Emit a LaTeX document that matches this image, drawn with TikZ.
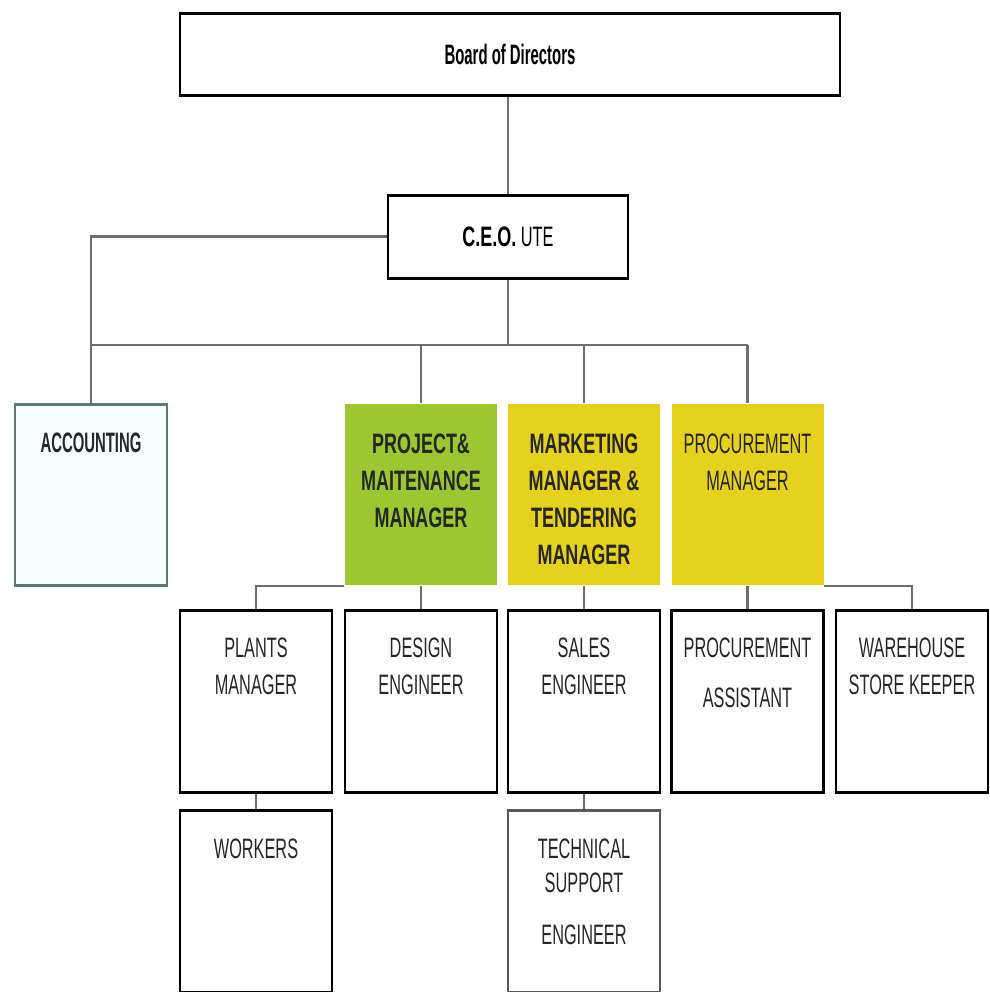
\documentclass[tikz,border=0pt]{standalone}
\usepackage{fontspec}
\setmainfont{Liberation Sans}[FakeStretch=0.58]
\newfontfamily\headfont{Liberation Sans Bold}[FakeStretch=0.64]
\newfontfamily\boardfont{Liberation Sans Bold}[FakeStretch=0.53]
\usetikzlibrary{positioning, calc}
\definecolor{linegray}{HTML}{6E6E6E}
\definecolor{projgreen}{HTML}{9BC832}
\definecolor{mgryellow}{HTML}{E6D21E}
\definecolor{accline}{HTML}{5A7878}
\definecolor{accfill}{HTML}{F7FCFD}
\tikzset{
  link/.style={draw=linegray, line width=0.6pt},
  unit/.style={draw=black, line width=0.85pt, minimum width=1.52cm, minimum height=1.82cm, inner sep=0pt},
  head/.style={fill=#1, minimum width=1.52cm, minimum height=1.81cm, inner sep=0pt},
  caption/.style={inner sep=0pt, align=center, text=black!85, font=\fontsize{8}{10.5}\selectfont},
}

\begin{document}
\begin{tikzpicture}
    \useasboundingbox (0,0) rectangle (9.90,-9.92);

    % Top of the chart
    \node[draw, line width=0.85pt, minimum width=6.60cm, minimum height=0.82cm, font=\boardfont\fontsize{8}{10}\selectfont]
        (board) at (5.10,-0.54) {Board of Directors};
    \node[draw, line width=0.85pt, minimum width=2.40cm, minimum height=0.83cm, font=\fontsize{8}{10}\selectfont]
        (ceo) at (5.08,-2.365) {{\headfont C.E.O.} UTE};

    % Managers
    \node[head=accfill, draw=accline, line width=0.85pt] (acc) at (0.91,-4.945) {};
    \node[head=projgreen] (proj) at (4.21,-4.945) {};
    \node[head=mgryellow] (mark) at (5.84,-4.945) {};
    \node[head=mgryellow] (proc) at (7.475,-4.945) {};

    \node[caption, font=\boardfont\fontsize{8}{10.5}\selectfont, below=3mm of acc.north] (acctxt) {ACCOUNTING};
    \node[caption, font=\headfont\fontsize{8}{10.5}\selectfont, below=3mm of proj.north] (projtxt) {PROJECT\&\\MAITENANCE\\MANAGER};
    \node[caption, font=\headfont\fontsize{8}{10.5}\selectfont, below=3mm of mark.north] (marktxt) {MARKETING\\MANAGER \&\\TENDERING\\MANAGER};
    \node[caption, below=3mm of proc.north] (proctxt) {PROCUREMENT\\MANAGER};

    % Staff
    \node[unit] (plants) at (2.56,-7.01) {};
    \node[unit] (design) at (4.21,-7.01) {};
    \node[unit] (sales) at (5.84,-7.01) {};
    \node[unit] (passist) at (7.475,-7.01) {};
    \node[unit] (ware) at (9.12,-7.01) {};
    \node[unit] (workers) at (2.56,-9.01) {};
    \node[unit, draw=linegray!80!black] (tech) at (5.84,-9.01) {};

    \node[caption, below=2.9mm of plants.north] (plantstxt) {PLANTS\\MANAGER};
    \node[caption, below=2.9mm of design.north] (designtxt) {DESIGN\\ENGINEER};
    \node[caption, below=2.9mm of sales.north] (salestxt) {SALES\\ENGINEER};
    \node[caption, below=2.9mm of passist.north] (passisttxt) {PROCUREMENT\\[3.7pt]ASSISTANT};
    \node[caption, below=2.9mm of ware.north] (waretxt) {WAREHOUSE\\STORE KEEPER};
    \node[caption, below=3mm of workers.north] (workerstxt) {WORKERS};
    \node[caption, below=3mm of tech.north] (techtxt) {TECHNICAL\\[-1pt]SUPPORT\\[4.3pt]ENGINEER};

    % Links
    \coordinate (bus) at (0,-3.45);
    \draw[link] (ceo.north |- board.south) -- (ceo.north);
    \draw[link] (ceo.west) -| (acc.north);
    \draw[link] (ceo.south) -- (ceo.south |- bus);
    \draw[link] (acc.north |- bus) -- (proc.north |- bus);
    \foreach \n in {proj, mark, proc}
        \draw[link] (\n.north |- bus) -- (\n.north);

    \draw[link] (proj.south west) -| (plants.north);
    \draw[link] (proj.south) -- (design.north);
    \draw[link] (mark.south) -- (sales.north);
    \draw[link] (proc.south) -- (passist.north);
    \draw[link] (proc.south east) -| (ware.north);
    \draw[link] (plants.south) -- (workers.north);
    \draw[link] (sales.south) -- (tech.north);

\end{tikzpicture}
\end{document}
